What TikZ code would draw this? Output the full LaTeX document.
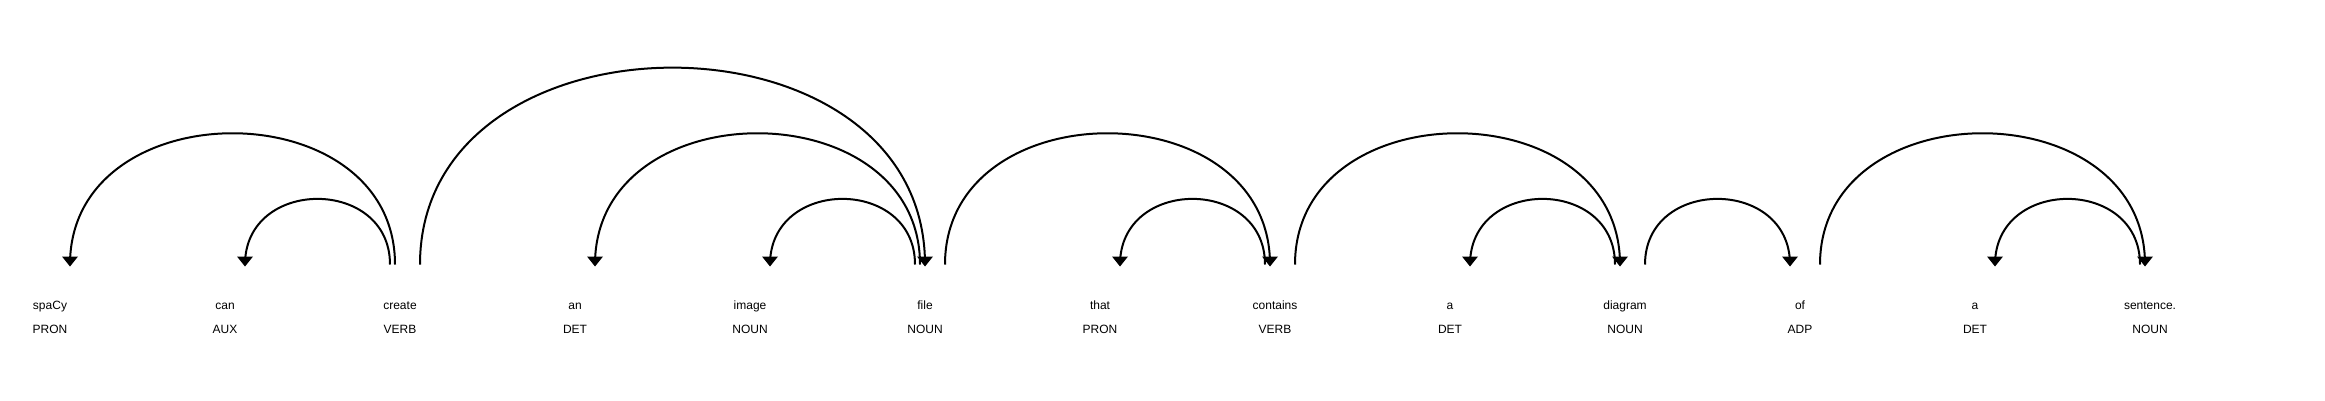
\documentclass[tikz,border=0pt]{standalone}
\usepackage{fontspec}
\setmainfont{Liberation Sans}
\begin{document}
\begin{tikzpicture}[x=1pt,y=-1pt,
  wordtext/.style={anchor=base,inner sep=0pt,font=\fontsize{12}{14}\selectfont},
  arcline/.style={draw=black,line width=2pt},
  headtri/.style={fill=black}]
\useasboundingbox[fill=white] (0,0) rectangle (2325,400);
\foreach \w/\t [count=\i from 0] in {spaCy/PRON,can/AUX,create/VERB,an/DET,image/NOUN,file/NOUN,that/PRON,contains/VERB,a/DET,diagram/NOUN,of/ADP,a/DET,sentence./NOUN}{
  \node[wordtext] (w\i) at (50+175*\i,309.5) {\w};
  \node[wordtext] (t\i) at (50+175*\i,333.5) {\t};
}
% name, x start, x end, y control, x of arrow head
\newcommand\deparc[5]{%
  \coordinate (#1s) at (#2,264.5);
  \coordinate (#1e) at (#3,264.5);
  \draw[arcline] (#1s) .. controls (#2,#4) and (#3,#4) .. (#1e);
  \fill[headtri] (#5,266.5) -- ++(-8,-10) -- ++(16,0) -- cycle;
}
\deparc{a1}{70}{395}{89.5}{70}
\deparc{a2}{245}{390}{177}{245}
\deparc{a3}{420}{925}{2}{925}
\deparc{a4}{595}{920}{89.5}{595}
\deparc{a5}{770}{915}{177}{770}
\deparc{a6}{945}{1270}{89.5}{1270}
\deparc{a7}{1120}{1265}{177}{1120}
\deparc{a8}{1295}{1620}{89.5}{1620}
\deparc{a9}{1470}{1615}{177}{1470}
\deparc{a10}{1645}{1790}{177}{1790}
\deparc{a11}{1820}{2145}{89.5}{2145}
\deparc{a12}{1995}{2140}{177}{1995}
\end{tikzpicture}
\end{document}
